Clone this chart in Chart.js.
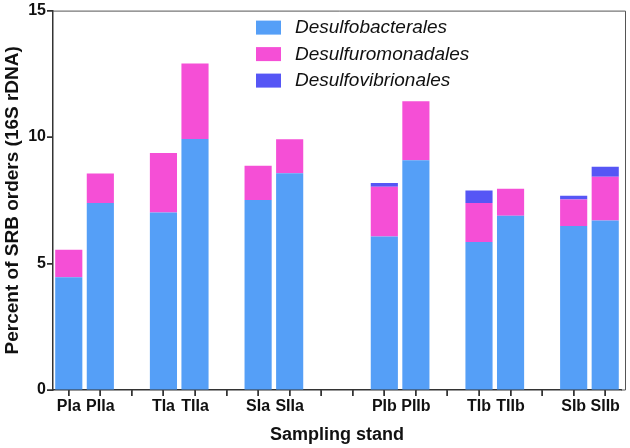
<!DOCTYPE html>
<html>
<head>
<meta charset="utf-8">
<script src="https://cdn.jsdelivr.net/npm/chart.js@4.4.0/dist/chart.umd.min.js"></script>
<style>
  html, body { margin: 0; padding: 0; background: #fff; }
  #wrap { width: 630px; height: 448px; }
</style>
</head>
<body>
<div id="wrap"><canvas id="c"></canvas></div>
<script>
// empty slots are the spaces between the groups
const stands = ['PIa', 'PIIa', '', 'TIa', 'TIIa', '', 'SIa', 'SIIa', '', '', 'PIb', 'PIIb', '', 'TIb', 'TIIb', '', 'SIb', 'SIIb'];
const desulfobacterales = [4.46, 7.39, null, 7.02, 9.92, null, 7.51, 8.57, null, null, 6.07, 9.08, null, 5.85, 6.89, null, 6.48, 6.70];
const desulfuromonadales = [1.08, 1.17, null, 2.35, 2.99, null, 1.36, 1.34, null, null, 1.97, 2.34, null, 1.54, 1.07, null, 1.05, 1.73];
const desulfovibrionales = [0, 0, null, 0, 0, null, 0, 0, null, null, 0.14, 0, null, 0.50, 0, null, 0.15, 0.40];
const yTicks = [0, 5, 10, 15];

const FONT = '"Liberation Sans", Arial, sans-serif';

// legend inside the plot, the top/right frame and the outward tick marks
const boxLegend = {
  id: 'boxLegend',
  afterDraw(chart) {
    const ctx = chart.ctx;
    const a = chart.chartArea;
    const xs = chart.scales.x, ys = chart.scales.y;
    ctx.save();
    ctx.strokeStyle = '#555';
    ctx.lineWidth = 1;
    ctx.beginPath();
    ctx.moveTo(a.left, a.top + 0.5);
    ctx.lineTo(a.right + 4.5, a.top + 0.5);
    ctx.lineTo(a.right + 4.5, a.bottom);
    ctx.lineTo(a.right, a.bottom);
    ctx.stroke();

    ctx.strokeStyle = '#333';
    ctx.lineWidth = 1.5;
    ctx.beginPath();
    xs.ticks.forEach((t, i) => {
      const px = Math.round(xs.getPixelForTick(i));
      ctx.moveTo(px, a.bottom);
      ctx.lineTo(px, a.bottom + 6);
    });
    ys.ticks.forEach((t, i) => {
      const py = Math.round(ys.getPixelForTick(i));
      ctx.moveTo(a.left, py);
      ctx.lineTo(a.left - 6, py);
    });
    ctx.stroke();

    chart.data.datasets.forEach((ds, i) => {
      const y = a.top + 10 + i * 26.5;
      ctx.fillStyle = ds.backgroundColor;
      ctx.fillRect(256, y, 25, 14);
      ctx.fillStyle = '#111';
      ctx.font = 'italic 19px ' + FONT;
      ctx.textBaseline = 'middle';
      ctx.fillText(ds.label, 295, y + 7.5);
    });
    ctx.restore();
  }
};

new Chart(document.getElementById('c'), {
  type: 'bar',
  data: {
    labels: stands,
    datasets: [
      { label: 'Desulfobacterales', data: desulfobacterales, backgroundColor: '#559ff7' },
      { label: 'Desulfuromonadales', data: desulfuromonadales, backgroundColor: '#f54fd6' },
      { label: 'Desulfovibrionales', data: desulfovibrionales, backgroundColor: '#5656f5' }
    ]
  },
  options: {
    responsive: true,
    maintainAspectRatio: false,
    animation: false,
    layout: { padding: { top: 9, right: 9, bottom: 2, left: 0 } },
    datasets: { bar: { barPercentage: 0.86, categoryPercentage: 1 } },
    plugins: { legend: { display: false }, tooltip: { enabled: false } },
    scales: {
      x: {
        stacked: true,
        afterFit(axis) { axis.height = 56; },
        grid: { offset: false, drawOnChartArea: false, tickLength: 6, color: '#333' },
        border: { color: '#333', width: 1.5 },
        ticks: {
          autoSkip: false, maxRotation: 0, padding: 1, color: '#111',
          font: { family: FONT, size: 16, weight: 'bold' }
        },
        title: {
          display: true, text: 'Sampling stand', color: '#111', padding: { top: 3, bottom: 0 },
          font: { family: FONT, size: 18, weight: 'bold' }
        }
      },
      y: {
        stacked: true,
        min: 0, max: 15,
        afterBuildTicks(axis) { axis.ticks = yTicks.map(v => ({ value: v })); },
        afterFit(axis) { axis.width = 53; },
        grid: { drawOnChartArea: false, tickLength: 6, color: '#333' },
        border: { color: '#333', width: 1.5 },
        ticks: {
          padding: 1, color: '#111',
          font: { family: FONT, size: 16, weight: 'bold' }
        },
        title: {
          display: true, text: 'Percent of SRB orders (16S rDNA)', color: '#111', padding: { top: 1, bottom: 1 },
          font: { family: FONT, size: 19, weight: 'bold' }
        }
      }
    }
  },
  plugins: [boxLegend]
});
</script>
</body>
</html>
